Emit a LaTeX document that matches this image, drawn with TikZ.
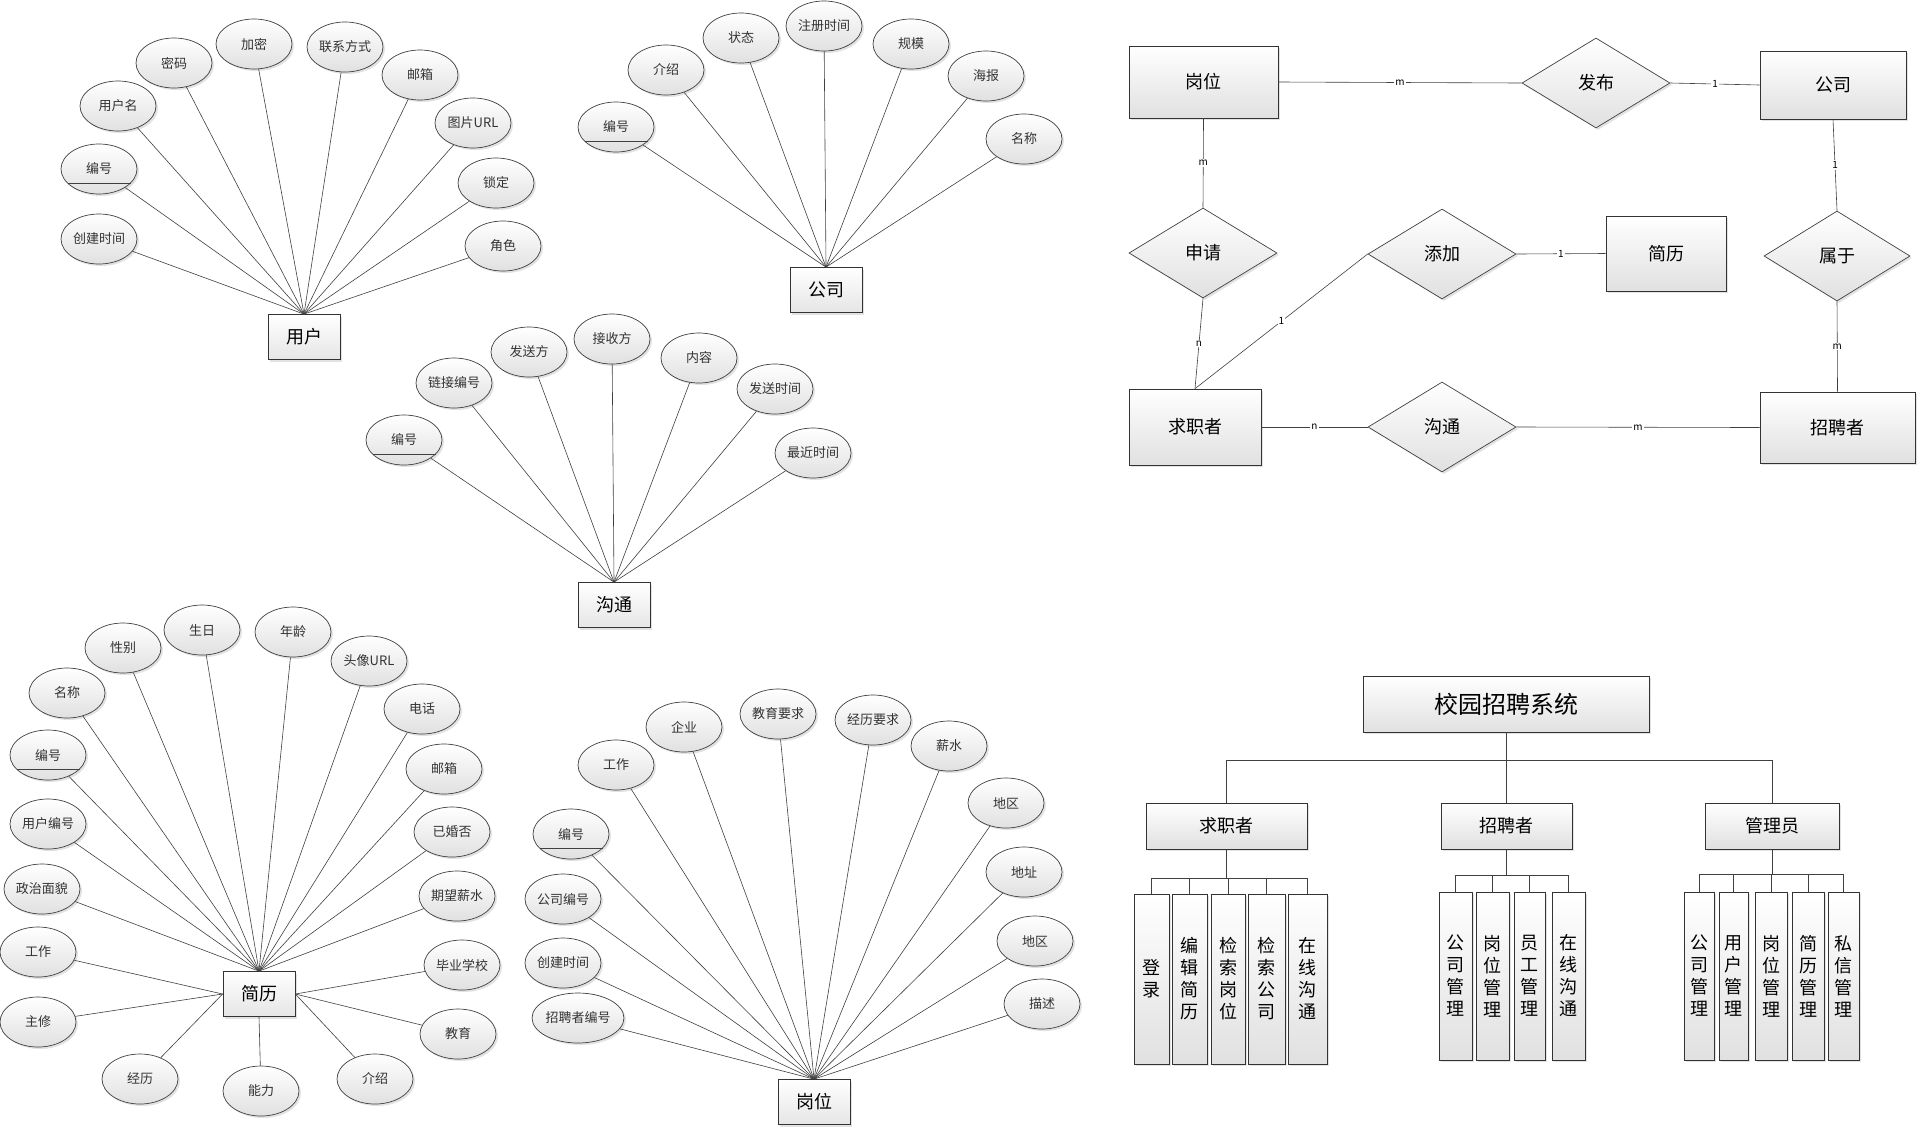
\documentclass[tikz,border=0pt]{standalone}
\usepackage{fontspec}
\setmainfont{Noto Sans CJK SC}
\usetikzlibrary{shapes.geometric,shadows,calc}
\begin{document}
\begin{tikzpicture}[x=1pt,y=-1pt,
  shadowed/.style={drop shadow={fill=black!22,shadow xshift=2pt,shadow yshift=-2pt}},
  attr/.style={ellipse,draw=black!75,line width=0.7pt,top color=white,bottom color=black!12,minimum width=76pt,minimum height=50pt,inner sep=0pt,font=\fontsize{13}{13}\selectfont,text=black!80,shadowed},
  ent/.style={rectangle,draw=black!80,line width=0.8pt,top color=white,bottom color=black!10,minimum width=72pt,minimum height=45pt,inner sep=0pt,font=\fontsize{18}{18}\selectfont,shadowed},
  link/.style={draw=black!75,line width=0.6pt},
  rel/.style={diamond,draw=black!75,line width=0.7pt,top color=white,bottom color=black!12,minimum width=148pt,minimum height=90pt,inner sep=0pt,font=\fontsize{18}{18}\selectfont,shadowed},
  erbox/.style={rectangle,draw=black!80,line width=0.7pt,top color=white,bottom color=black!12,inner sep=0pt,font=\fontsize{18}{18}\selectfont,shadowed},
  card/.style={fill=white,inner sep=1pt,font=\fontsize{10}{10}\selectfont},
  vbox/.style={rectangle,draw=black!80,line width=0.7pt,top color=white,bottom color=black!12,inner sep=0pt,align=center,font=\fontsize{18}{22}\selectfont,shadowed},
]
\fill[white] (0,0) rectangle (1918,1128);
\useasboundingbox (0,0) rectangle (1918,1128);

% ---------- 用户 ----------
\node[ent] (yh) at (304,337) {用户};
\node[attr] (yh1) at (174,63) {密码};
\node[attr] (yh2) at (254,44) {加密};
\node[attr] (yh3) at (345,47) {联系方式};
\node[attr] (yh4) at (420,75) {邮箱};
\node[attr] (yh5) at (473,123) {图片URL};
\node[attr] (yh6) at (496,183) {锁定};
\node[attr] (yh7) at (503,246) {角色};
\node[attr] (yh8) at (118,106) {用户名};
\node[attr] (yh9) at (99,169) {编号};
\node[attr] (yh10) at (99,239) {创建时间};
\foreach \i in {1,...,10} \draw[link] (yh\i) -- (yh.north);
\draw[link] ($(yh9)+(-31.5,14)$) -- ($(yh9)+(31.5,14)$);

% ---------- 公司 ----------
\node[ent] (gs) at (826,290) {公司};
\node[attr] (gs1) at (616,127) {编号};
\node[attr] (gs2) at (666,70) {介绍};
\node[attr] (gs3) at (741,38) {状态};
\node[attr] (gs4) at (824,26) {注册时间};
\node[attr] (gs5) at (911,44) {规模};
\node[attr] (gs6) at (986,76) {海报};
\node[attr] (gs7) at (1024,139) {名称};
\foreach \i in {1,...,7} \draw[link] (gs\i) -- (gs.north);
\draw[link] ($(gs1)+(-31.5,14)$) -- ($(gs1)+(31.5,14)$);

% ---------- 沟通 ----------
\node[ent] (gt) at (614,605) {沟通};
\node[attr] (gt1) at (404,440) {编号};
\node[attr] (gt2) at (454,383) {链接编号};
\node[attr] (gt3) at (529,352) {发送方};
\node[attr] (gt4) at (612,339) {接收方};
\node[attr] (gt5) at (699,358) {内容};
\node[attr] (gt6) at (775,389) {发送时间};
\node[attr] (gt7) at (813,453) {最近时间};
\foreach \i in {1,...,7} \draw[link] (gt\i) -- (gt.north);
\draw[link] ($(gt1)+(-31.5,14)$) -- ($(gt1)+(31.5,14)$);

% ---------- 简历 ----------
\node[ent] (jl) at (259,994) {简历};
\node[attr] (jl1) at (67,693) {名称};
\node[attr] (jl2) at (123,648) {性别};
\node[attr] (jl3) at (202,630) {生日};
\node[attr] (jl4) at (293,632) {年龄};
\node[attr] (jl5) at (369,661) {头像URL};
\node[attr] (jl6) at (422,709) {电话};
\node[attr] (jl7) at (444,769) {邮箱};
\node[attr] (jl8) at (452,832) {已婚否};
\node[attr] (jl9) at (457,896) {期望薪水};
\node[attr] (jl10) at (48,755) {编号};
\node[attr] (jl11) at (48,824) {用户编号};
\node[attr] (jl12) at (42,889) {政治面貌};
\node[attr] (jl13) at (38,952) {工作};
\node[attr] (jl14) at (38,1022) {主修};
\node[attr] (jl15) at (140,1079) {经历};
\node[attr] (jl16) at (261,1091) {能力};
\node[attr] (jl17) at (375,1079) {介绍};
\node[attr] (jl18) at (458,1034) {教育};
\node[attr] (jl19) at (462,965) {毕业学校};
\foreach \i in {1,...,12} \draw[link] (jl\i) -- (jl.north);
\foreach \i in {13,14,15} \draw[link] (jl\i) -- (jl.west);
\draw[link] (jl16) -- (jl.south);
\foreach \i in {17,18,19} \draw[link] (jl\i) -- (jl.east);
\draw[link] ($(jl10)+(-31.5,14)$) -- ($(jl10)+(31.5,14)$);

% ---------- 岗位 ----------
\node[ent] (gw) at (814,1102) {岗位};
\node[attr] (gw1) at (616,765) {工作};
\node[attr] (gw2) at (684,727) {企业};
\node[attr] (gw3) at (778,714) {教育要求};
\node[attr] (gw4) at (873,720) {经历要求};
\node[attr] (gw5) at (949,746) {薪水};
\node[attr] (gw6) at (1006,803) {地区};
\node[attr] (gw7) at (1024,872) {地址};
\node[attr] (gw8) at (1035,941) {地区};
\node[attr] (gw9) at (1042,1004) {描述};
\node[attr] (gw10) at (571,834) {编号};
\node[attr] (gw11) at (563,899) {公司编号};
\node[attr] (gw12) at (563,963) {创建时间};
\node[attr] (gw13) at (578,1018) {招聘者编号};
\foreach \i in {1,...,13} \draw[link] (gw\i) -- (gw.north);
\draw[link] ($(gw10)+(-31.5,14)$) -- ($(gw10)+(31.5,14)$);

% ---------- ER overview ----------
\node[erbox,minimum width=149pt,minimum height=72pt] (rgw) at (1203.5,82) {岗位};
\node[rel] (rfb) at (1596,83) {发布};
\node[erbox,minimum width=146pt,minimum height=68pt] (rgs) at (1833,85) {公司};
\node[rel] (rsq) at (1203,253) {申请};
\node[rel] (rtj) at (1442,254) {添加};
\node[erbox,minimum width=120pt,minimum height=75pt] (rjl) at (1666,253.5) {简历};
\node[rel,minimum width=146pt] (rsy) at (1837,256) {属于};
\node[erbox,minimum width=132pt,minimum height=76pt] (rqz) at (1195,427) {求职者};
\node[rel] (rgt) at (1442,427) {沟通};
\node[erbox,minimum width=155pt,minimum height=71pt] (rzp) at (1837.5,427.5) {招聘者};
\draw[link] (rgw.east) -- node[card]{m} (rfb.west);
\draw[link] (rfb.east) -- node[card]{1} (rgs.west);
\draw[link] (rgw.south) -- node[card]{m} (rsq.north);
\draw[link] (rsq.south) -- node[card]{n} (rqz.north);
\draw[link] (rtj.west) -- node[card]{1} (rqz.north);
\draw[link] (rtj.east) -- node[card]{1} (rjl.west);
\draw[link] (rgs.south) -- node[card]{1} (rsy.north);
\draw[link] (rsy.south) -- node[card]{m} (rzp.north);
\draw[link] (rqz.east) -- node[card]{n} (rgt.west);
\draw[link] (rgt.east) -- node[card]{m} (rzp.west);

% ---------- hierarchy ----------
\node[erbox,minimum width=286pt,minimum height=56pt,font=\fontsize{24}{24}\selectfont] (h0) at (1506,704) {校园招聘系统};
\node[erbox,minimum width=161pt,minimum height=46pt] (h1) at (1226.5,826) {求职者};
\node[erbox,minimum width=131pt,minimum height=46pt] (h2) at (1506.5,826) {招聘者};
\node[erbox,minimum width=134pt,minimum height=46pt] (h3) at (1772,826) {管理员};
\coordinate (lv) at (1506,760);
\draw[link] (h0.south) -- (h0.south |- lv);
\draw[link] (h1.north |- lv) -- (h3.north |- lv);
\foreach \n in {h1,h2,h3} \draw[link] (\n.north) -- (\n.north |- lv);

\node[vbox,minimum width=35pt,minimum height=170pt] (a1) at (1151.5,979) {登\\录};
\node[vbox,minimum width=35pt,minimum height=170pt] (a2) at (1189.5,979) {编\\辑\\简\\历};
\node[vbox,minimum width=34pt,minimum height=170pt] (a3) at (1228,979) {检\\索\\岗\\位};
\node[vbox,minimum width=37pt,minimum height=170pt] (a4) at (1266.5,979) {检\\索\\公\\司};
\node[vbox,minimum width=39pt,minimum height=170pt] (a5) at (1307.5,979) {在\\线\\沟\\通};
\coordinate (bara) at (1227,878);
\draw[link] (h1.south) -- (h1.south |- bara);
\draw[link] (a1.north |- bara) -- (a5.north |- bara);
\foreach \i in {1,...,5} \draw[link] (a\i.north) -- (a\i.north |- bara);

\node[vbox,minimum width=33pt,minimum height=168pt] (c1) at (1455.5,976) {公\\司\\管\\理};
\node[vbox,minimum width=33pt,minimum height=168pt] (c2) at (1492.5,976) {岗\\位\\管\\理};
\node[vbox,minimum width=31pt,minimum height=168pt] (c3) at (1529.5,976) {员\\工\\管\\理};
\node[vbox,minimum width=33pt,minimum height=168pt] (c4) at (1568.5,976) {在\\线\\沟\\通};
\coordinate (barb) at (1506,875);
\draw[link] (h2.south) -- (h2.south |- barb);
\draw[link] (c1.north |- barb) -- (c4.north |- barb);
\foreach \i in {1,...,4} \draw[link] (c\i.north) -- (c\i.north |- barb);

\node[vbox,minimum width=30pt,minimum height=168pt] (d1) at (1699,976) {公\\司\\管\\理};
\node[vbox,minimum width=29pt,minimum height=168pt] (d2) at (1733.5,976) {用\\户\\管\\理};
\node[vbox,minimum width=32pt,minimum height=168pt] (d3) at (1771,976) {岗\\位\\管\\理};
\node[vbox,minimum width=32pt,minimum height=168pt] (d4) at (1808,976) {简\\历\\管\\理};
\node[vbox,minimum width=31pt,minimum height=168pt] (d5) at (1843.5,976) {私\\信\\管\\理};
\coordinate (barc) at (1772,874);
\draw[link] (h3.south) -- (h3.south |- barc);
\draw[link] (d1.north |- barc) -- (d5.north |- barc);
\foreach \i in {1,...,5} \draw[link] (d\i.north) -- (d\i.north |- barc);
\end{tikzpicture}
\end{document}
